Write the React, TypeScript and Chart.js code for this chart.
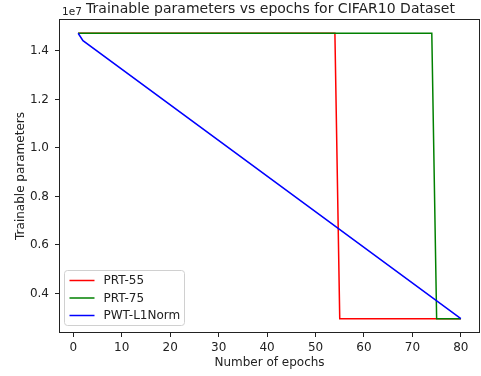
import React, { useEffect, useRef } from "react";
import { Chart, registerables } from "chart.js";

Chart.register(...registerables);

const TITLE = "Trainable parameters vs epochs for CIFAR10 Dataset";
const X_LABEL = "Number of epochs";
const Y_LABEL = "Trainable parameters";
const Y_OFFSET_LABEL = "1e7";

const SERIES_NAMES = ["PRT-55", "PRT-75", "PWT-L1Norm"];
const SERIES_COLORS = ["#ff0000", "#008000", "#0000ff"];

const prt55Epochs = [1, 54, 55, 80];
const prt55Params = [14730000, 14730000, 2960000, 2960000];

const prt75Epochs = [1, 74, 75, 80];
const prt75Params = [14730000, 14730000, 2960000, 2960000];

const pwtEpochs = [1, 2, 80];
const pwtParams = [14730000, 14425000, 2960000];

const xTicks = [0, 10, 20, 30, 40, 50, 60, 70, 80];
const yTicks = [4000000, 6000000, 8000000, 10000000, 12000000, 14000000];

const X_MIN = -2.95;
const X_MAX = 83.95;
const Y_MIN = 2371000;
const Y_MAX = 15319000;

const FONT = '"DejaVu Sans", "Liberation Sans", sans-serif';

function toPoints(xs: number[], ys: number[]) {
  return xs.map((x, i) => ({ x, y: ys[i] }));
}

const decorPlugin = {
  id: "decor",
  afterDraw(chart: any) {
    const { ctx, chartArea: a } = chart;
    ctx.save();
    // axes box
    ctx.strokeStyle = "#222";
    ctx.lineWidth = 1;
    const l = Math.round(a.left) + 0.5;
    const t = Math.round(a.top) + 0.5;
    const r = Math.round(a.right) - 0.5;
    const b = Math.round(a.bottom) - 0.5;
    ctx.strokeRect(l, t, r - l, b - t);

    // title
    ctx.fillStyle = "#222";
    ctx.font = `14px ${FONT}`;
    ctx.textAlign = "center";
    ctx.textBaseline = "alphabetic";
    ctx.fillText(TITLE, (a.left + a.right) / 2 + 1, 13);

    // offset text
    ctx.font = `10.5px ${FONT}`;
    ctx.textAlign = "left";
    ctx.fillText(Y_OFFSET_LABEL, a.left + 3, 15);

    // legend
    const bx = a.left + 5.5;
    const by = a.bottom - 62.5;
    const bw = 120;
    const bh = 55;
    ctx.beginPath();
    const rad = 3;
    ctx.moveTo(bx + rad, by);
    ctx.lineTo(bx + bw - rad, by);
    ctx.quadraticCurveTo(bx + bw, by, bx + bw, by + rad);
    ctx.lineTo(bx + bw, by + bh - rad);
    ctx.quadraticCurveTo(bx + bw, by + bh, bx + bw - rad, by + bh);
    ctx.lineTo(bx + rad, by + bh);
    ctx.quadraticCurveTo(bx, by + bh, bx, by + bh - rad);
    ctx.lineTo(bx, by + rad);
    ctx.quadraticCurveTo(bx, by, bx + rad, by);
    ctx.closePath();
    ctx.fillStyle = "rgba(255,255,255,0.8)";
    ctx.fill();
    ctx.strokeStyle = "#d0d0d0";
    ctx.lineWidth = 1;
    ctx.stroke();

    ctx.font = `12px ${FONT}`;
    ctx.textBaseline = "middle";
    SERIES_NAMES.forEach((name, i) => {
      const y = by + 10 + i * 17.5;
      ctx.strokeStyle = SERIES_COLORS[i];
      ctx.lineWidth = 1.5;
      ctx.beginPath();
      ctx.moveTo(bx + 5, y);
      ctx.lineTo(bx + 30, y);
      ctx.stroke();
      ctx.fillStyle = "#222";
      ctx.fillText(name, bx + 39, y + 0.5);
    });
    ctx.restore();
  },
};

export default function App() {
  const ref = useRef<HTMLCanvasElement | null>(null);

  useEffect(() => {
    document.body.style.margin = "0";
    const canvas = ref.current;
    if (!canvas) return;
    const mk = (i: number, xs: number[], ys: number[], order: number) => ({
      label: SERIES_NAMES[i],
      data: toPoints(xs, ys),
      borderColor: SERIES_COLORS[i],
      backgroundColor: SERIES_COLORS[i],
      borderWidth: 1.5,
      pointRadius: 0,
      tension: 0,
      fill: false,
      order,
    });
    const chart = new Chart(canvas, {
      type: "line",
      data: {
        datasets: [
          mk(0, prt55Epochs, prt55Params, 2),
          mk(1, prt75Epochs, prt75Params, 1),
          mk(2, pwtEpochs, pwtParams, 0),
        ],
      },
      options: {
        animation: false,
        responsive: false,
        devicePixelRatio: 1,
        layout: { padding: { top: 19, right: 1, left: 0, bottom: 0 } },
        plugins: {
          legend: { display: false },
          title: { display: false },
          tooltip: { enabled: false },
        },
        scales: {
          x: {
            type: "linear",
            min: X_MIN,
            max: X_MAX,
            afterBuildTicks: (s: any) => {
              s.ticks = xTicks.map((v) => ({ value: v }));
            },
            afterFit: (s: any) => {
              s.height = 43;
            },
            grid: {
              display: true,
              drawOnChartArea: false,
              drawTicks: true,
              tickLength: 4,
              tickColor: "#222",
            },
            border: { display: false },
            ticks: {
              padding: 4,
              color: "#222",
              font: { family: FONT, size: 12 },
              maxRotation: 0,
              autoSkip: false,
              callback: (v: any) => String(v),
            },
            title: {
              display: true,
              text: X_LABEL,
              color: "#222",
              font: { family: FONT, size: 12 },
              padding: { top: 0, bottom: 6 },
            },
          },
          y: {
            type: "linear",
            min: Y_MIN,
            max: Y_MAX,
            afterBuildTicks: (s: any) => {
              s.ticks = yTicks.map((v) => ({ value: v }));
            },
            afterFit: (s: any) => {
              s.width = 59;
            },
            grid: {
              display: true,
              drawOnChartArea: false,
              drawTicks: true,
              tickLength: 4,
              tickColor: "#222",
            },
            border: { display: false },
            ticks: {
              padding: 6,
              color: "#222",
              font: { family: FONT, size: 12 },
              autoSkip: false,
              callback: (v: any) => (Number(v) / 1e7).toFixed(1),
            },
            title: {
              display: true,
              text: Y_LABEL,
              color: "#222",
              font: { family: FONT, size: 12 },
              padding: { top: 14, bottom: 0 },
            },
          },
        },
      },
      plugins: [decorPlugin],
    });
    return () => chart.destroy();
  }, []);

  return (
    <div style={{ position: "absolute", left: 0, top: 0, width: 481, height: 376, background: "#fff" }}>
      <canvas ref={ref} width={481} height={376} />
    </div>
  );
}
